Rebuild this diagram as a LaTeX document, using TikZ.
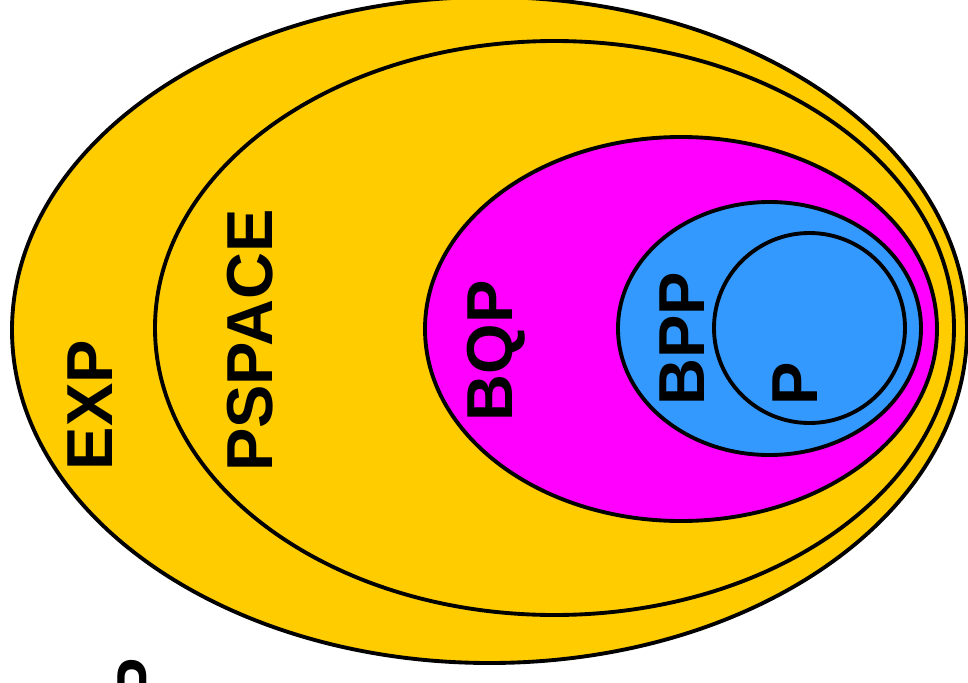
\documentclass[tikz,border=0pt]{standalone}
\usepackage{fontspec}
\setmainfont{Liberation Sans}
\usepackage{xcolor}
\usepackage{tikz}
\usetikzlibrary{positioning}

\definecolor{expyellow}{HTML}{FFCC00}
\definecolor{bqpmagenta}{HTML}{FF00FF}
\definecolor{bppblue}{HTML}{3399FF}

\tikzset{
    classset/.style={draw=black, line width=2.2pt},
    classlabel/.style={rotate=90, inner sep=0pt, text depth=0pt, font=\fontsize{37}{44}\selectfont\bfseries}
}

\begin{document}
\begin{tikzpicture}[x=0.02cm, y=-0.02cm]
    \useasboundingbox (0,0) rectangle (968,683);
    \clip (0,0) rectangle (968,683);

    % Nested classes
    \draw[classset, fill=expyellow] (489.5,330) ellipse [x radius=477.5, y radius=333];
    \draw[classset, fill=expyellow] (554.5,328) ellipse [x radius=399.5, y radius=287];
    \draw[classset, fill=bqpmagenta] (681,329) ellipse [x radius=256, y radius=192];
    \draw[classset, fill=bppblue] (769.5,328.5) ellipse [x radius=151.5, y radius=126.5];
    \draw[classset] (809.5,328) ellipse [x radius=95.5, y radius=95];

    % Labels
    \node[classlabel] (exp) at (90.5,405) {EXP};
    \node[classlabel] (pspace) at (250,340.5) {PSPACE};
    \node[classlabel] (bqp) at (490,351) {BQP};
    \node[classlabel] (bpp) at (682.5,339) {BPP};
    \node[classlabel] (p) at (795,384) {P};
    \node[classlabel, anchor=north east] (cut) at (117,657.5) {P};
\end{tikzpicture}
\end{document}
